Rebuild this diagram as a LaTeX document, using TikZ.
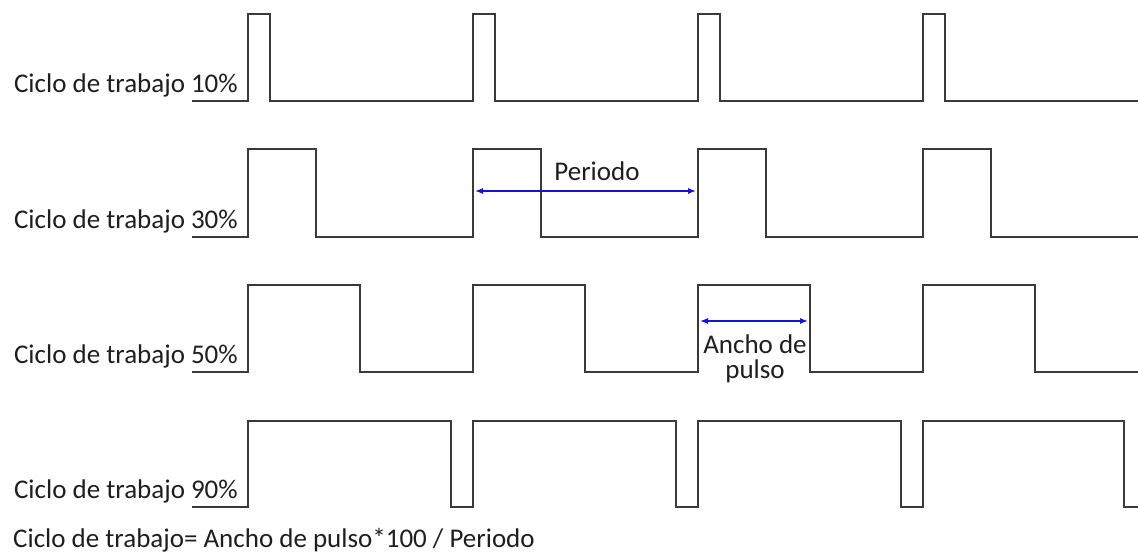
\documentclass[tikz,border=0pt]{standalone}
\usepackage{fontspec}
\setmainfont{Carlito}
\usetikzlibrary{arrows.meta}
\definecolor{wave}{RGB}{58,58,58}
\definecolor{ink}{RGB}{30,30,30}
\definecolor{dim}{RGB}{20,20,215}
\begin{document}
\begin{tikzpicture}[x=1pt,y=-1pt,
  signal/.style={draw=wave,line width=2.2pt,line join=miter},
  txt/.style={inner sep=0pt,text=ink,font=\fontsize{27}{25}\selectfont},
  rowlabel/.style={txt,anchor=base east},
  dimline/.style={draw=dim,line width=1.2pt,{Latex[length=8pt,width=6pt]}-{Latex[length=8pt,width=6pt]}}]
\useasboundingbox (0,0) rectangle (1138,552);

% 10 % duty cycle
\path[signal] (192,101) -- (248,101) -- (248,14) -- (270,14) -- (270,101)
  -- (473,101) -- (473,14) -- (495,14) -- (495,101)
  -- (698,101) -- (698,14) -- (720,14) -- (720,101)
  -- (923,101) -- (923,14) -- (945,14) -- (945,101) -- (1138,101);
\node[rowlabel] (l10) at (238,92) {Ciclo de trabajo 10\%};

% 30 % duty cycle
\path[signal] (192,237) -- (248,237) -- (248,149) -- (316,149) -- (316,237)
  -- (473,237) -- (473,149) -- (541,149) -- (541,237)
  -- (698,237) -- (698,149) -- (766,149) -- (766,237)
  -- (923,237) -- (923,149) -- (991,149) -- (991,237) -- (1138,237);
\node[rowlabel] (l30) at (238,228) {Ciclo de trabajo 30\%};

% 50 % duty cycle
\path[signal] (192,372) -- (248,372) -- (248,285) -- (360,285) -- (360,372)
  -- (473,372) -- (473,285) -- (585,285) -- (585,372)
  -- (698,372) -- (698,285) -- (810,285) -- (810,372)
  -- (923,372) -- (923,285) -- (1035,285) -- (1035,372) -- (1138,372);
\node[rowlabel] (l50) at (238,363) {Ciclo de trabajo 50\%};

% 90 % duty cycle
\path[signal] (192,507) -- (248,507) -- (248,421) -- (451,421) -- (451,507)
  -- (473,507) -- (473,421) -- (676,421) -- (676,507)
  -- (698,507) -- (698,421) -- (901,421) -- (901,507)
  -- (923,507) -- (923,421) -- (1124,421) -- (1124,507) -- (1138,507);
\node[rowlabel] (l90) at (238,498) {Ciclo de trabajo 90\%};

% period dimension
\coordinate (pA) at (475,191);
\coordinate (pB) at (696,191);
\draw[dimline] (pA) -- (pB);
\node[txt,anchor=base] (per) at (597,180) {Periodo};

% pulse width dimension
\coordinate (wA) at (700,321);
\coordinate (wB) at (808,321);
\draw[dimline] (wA) -- (wB);
\node[txt,anchor=base] (aw1) at (755,353) {Ancho de};
\node[txt,anchor=base] (aw2) at (755,378) {pulso};

% formula
\node[txt,anchor=base west] (eq) at (13,547)
  {Ciclo de trabajo= Ancho de pulso*100 / Periodo};
\end{tikzpicture}
\end{document}
